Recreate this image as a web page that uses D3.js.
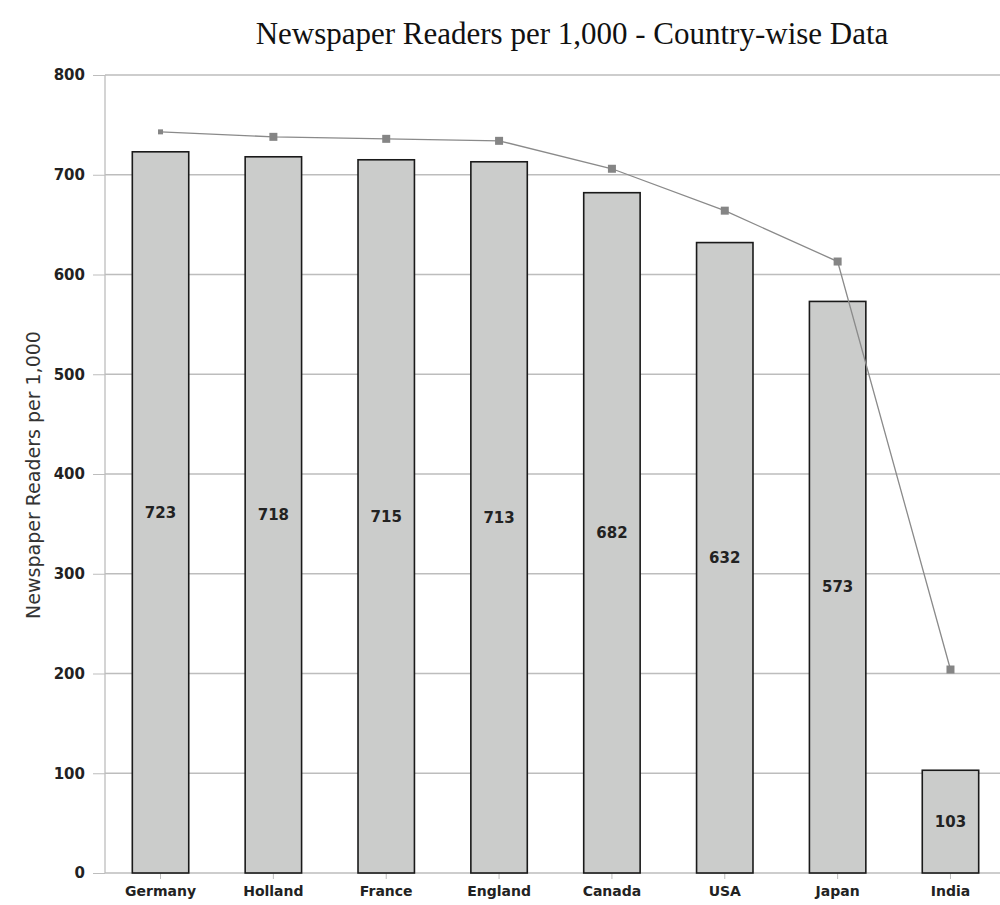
<!DOCTYPE html>
<html lang="en">
<head>
    <meta charset="UTF-8">
    <title>Newspaper Readers per 1,000</title>
    <script src="https://d3js.org/d3.v7.min.js"></script>
    <style>
        body { margin: 0; background: #fff; }
        svg { display: block; }
    </style>
</head>
<body>
    <div id="chart"></div>
    <script>
        // Data
        const countries = ["Germany", "Holland", "France", "England", "Canada", "USA", "Japan", "India"];
        const readers = [723, 718, 715, 713, 682, 632, 573, 103];
        const lineValues = [743, 738, 736, 734, 706, 664, 613, 204];
        const yTicks = [0, 100, 200, 300, 400, 500, 600, 700, 800];

        const width = 1000;
        const height = 905;
        const margin = { top: 75, right: -6, bottom: 32, left: 105 };

        const svg = d3.select("#chart")
            .append("svg")
            .attr("width", width)
            .attr("height", height);

        // Scales
        const xScale = d3.scaleBand()
            .domain(countries)
            .range([margin.left, width - margin.right])
            .paddingInner(0.5)
            .paddingOuter(0.242);

        const yScale = d3.scaleLinear()
            .domain([0, 800])
            .range([height - margin.bottom, margin.top]);

        // Title
        svg.append("text")
            .attr("x", 572)
            .attr("y", 44)
            .attr("text-anchor", "middle")
            .attr("font-family", "'Liberation Serif', 'Times New Roman', serif")
            .attr("font-size", 31)
            .attr("fill", "#111")
            .text("Newspaper Readers per 1,000 - Country-wise Data");

        // Gridlines + y axis
        const yAxis = svg.append("g")
            .attr("transform", "translate(" + margin.left + ",0)")
            .call(d3.axisLeft(yScale).tickValues(yTicks).tickSize(12).tickPadding(8).tickFormat(d3.format("d")));
        yAxis.select(".domain").remove();
        yAxis.selectAll(".tick line").attr("stroke", "#bdbdbd");
        yAxis.selectAll(".tick text")
            .attr("font-family", "'DejaVu Sans', sans-serif")
            .attr("font-weight", "bold")
            .attr("font-size", 15)
            .attr("fill", "#222");

        svg.append("g")
            .selectAll("line")
            .data(yTicks)
            .enter().append("line")
            .attr("x1", margin.left)
            .attr("x2", width)
            .attr("y1", d => yScale(d))
            .attr("y2", d => yScale(d))
            .attr("stroke", "#bdbdbd")
            .attr("stroke-width", 1.3);

        svg.append("line")
            .attr("x1", margin.left)
            .attr("x2", margin.left)
            .attr("y1", yScale(800))
            .attr("y2", yScale(0))
            .attr("stroke", "#bdbdbd")
            .attr("stroke-width", 1.3);

        // Y axis title
        svg.append("text")
            .attr("transform", "rotate(-90)")
            .attr("x", -475)
            .attr("y", 40)
            .attr("text-anchor", "middle")
            .attr("font-family", "'DejaVu Sans', sans-serif")
            .attr("font-size", 19)
            .attr("fill", "#333")
            .text("Newspaper Readers per 1,000");

        // X axis
        const xAxis = svg.append("g")
            .attr("transform", "translate(0," + yScale(0) + ")")
            .call(d3.axisBottom(xScale).tickSize(6).tickPadding(7));
        xAxis.select(".domain").remove();
        xAxis.selectAll(".tick line").attr("stroke", "#bdbdbd");
        xAxis.selectAll(".tick text")
            .attr("font-family", "'DejaVu Sans', sans-serif")
            .attr("font-weight", "bold")
            .attr("font-size", 14)
            .attr("fill", "#222");

        // Bars
        svg.append("g")
            .selectAll("rect")
            .data(countries)
            .enter().append("rect")
            .attr("x", d => xScale(d))
            .attr("y", (d, i) => yScale(readers[i]))
            .attr("width", xScale.bandwidth())
            .attr("height", (d, i) => yScale(0) - yScale(readers[i]))
            .attr("fill", "#cbcccb")
            .attr("stroke", "#1a1a1a")
            .attr("stroke-width", 1.6);

        // Bar value labels (middle of bar)
        svg.append("g")
            .selectAll("text")
            .data(countries)
            .enter().append("text")
            .attr("x", d => xScale(d) + xScale.bandwidth() / 2)
            .attr("y", (d, i) => (yScale(readers[i]) + yScale(0)) / 2)
            .attr("dy", "0.35em")
            .attr("text-anchor", "middle")
            .attr("font-family", "'DejaVu Sans', sans-serif")
            .attr("font-weight", "bold")
            .attr("font-size", 15)
            .attr("fill", "#222")
            .text((d, i) => readers[i]);

        // Line
        const line = d3.line()
            .x((d, i) => xScale(countries[i]) + xScale.bandwidth() / 2)
            .y(d => yScale(d));

        svg.append("path")
            .datum(lineValues)
            .attr("fill", "none")
            .attr("stroke", "#8a8a8a")
            .attr("stroke-width", 1.3)
            .attr("d", line);

        svg.append("g")
            .selectAll("rect")
            .data(lineValues)
            .enter().append("rect")
            .attr("x", (d, i) => xScale(countries[i]) + xScale.bandwidth() / 2 - (i === 0 ? 2.5 : 4))
            .attr("y", (d, i) => yScale(d) - (i === 0 ? 2.5 : 4))
            .attr("width", (d, i) => i === 0 ? 5 : 8)
            .attr("height", (d, i) => i === 0 ? 5 : 8)
            .attr("fill", "#858585");
    </script>
</body>
</html>
